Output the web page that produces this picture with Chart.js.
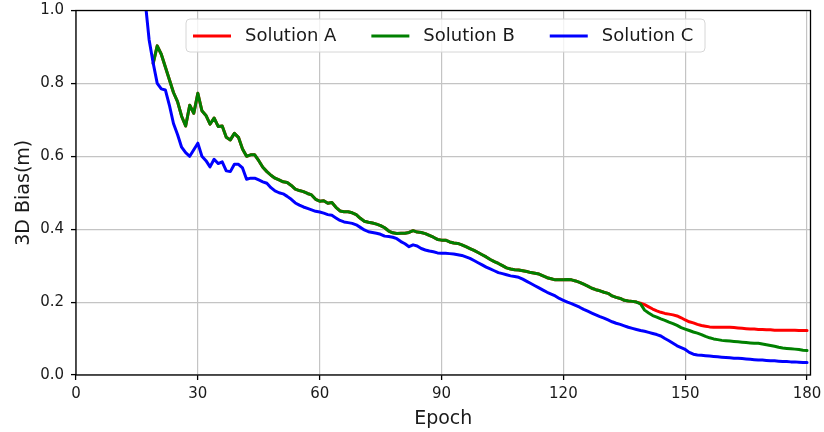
<!DOCTYPE html>
<html>
<head>
<meta charset="utf-8">
<script src="https://cdn.jsdelivr.net/npm/chart.js@4/dist/chart.umd.min.js"></script>
<style>
  html, body { margin: 0; padding: 0; background: #fff; }
  canvas { display: block; }
</style>
</head>
<body>
<canvas id="biasChart" width="824" height="432"></canvas>
<script>
// epochs 17..180, one value per epoch (null = no value)
let epochs = [];
for (let e = 17; e <= 180; e++) epochs.push(e);

let solutionC = [
  1.03, 0.92, 0.856, 0.8, 0.785, 0.782, 0.74, 0.69, 0.66, 0.625,
  0.61, 0.6, 0.618, 0.636, 0.6, 0.588, 0.571, 0.592, 0.58, 0.585,
  0.56, 0.558, 0.578, 0.578, 0.568, 0.537, 0.54, 0.54, 0.535, 0.53,
  0.526, 0.514, 0.505, 0.5, 0.497, 0.49, 0.482, 0.472, 0.466, 0.461,
  0.457, 0.453, 0.449, 0.447, 0.444, 0.44, 0.438, 0.431, 0.424, 0.42,
  0.418, 0.416, 0.412, 0.405, 0.398, 0.393, 0.391, 0.389, 0.386, 0.381,
  0.38, 0.378, 0.374, 0.366, 0.36, 0.352, 0.357, 0.354, 0.347, 0.343,
  0.34, 0.338, 0.335, 0.334, 0.334, 0.333, 0.332, 0.33, 0.328, 0.324,
  0.32, 0.314, 0.308, 0.302, 0.296, 0.291, 0.286, 0.281, 0.278, 0.275,
  0.272, 0.27, 0.268, 0.263, 0.257, 0.251, 0.245, 0.239, 0.233, 0.227,
  0.222, 0.217, 0.21, 0.205, 0.2, 0.196, 0.191, 0.186, 0.18, 0.175,
  0.17, 0.165, 0.16, 0.156, 0.151, 0.146, 0.142, 0.139, 0.135, 0.131,
  0.128, 0.125, 0.122, 0.12, 0.117, 0.114, 0.111, 0.107, 0.1, 0.094,
  0.087, 0.08, 0.075, 0.07, 0.062, 0.057, 0.055, 0.054, 0.053, 0.052,
  0.051, 0.05, 0.049, 0.048, 0.047, 0.046, 0.046, 0.045, 0.044, 0.043,
  0.042, 0.041, 0.041, 0.04, 0.039, 0.039, 0.038, 0.037, 0.037, 0.036,
  0.036, 0.035, 0.034, 0.034
];

let solutionB = [
  null, null, 0.855, 0.903, 0.88, 0.845, 0.81, 0.775, 0.75, 0.71,
  0.683, 0.74, 0.718, 0.773, 0.725, 0.712, 0.688, 0.705, 0.682, 0.683,
  0.652, 0.645, 0.663, 0.652, 0.62, 0.6, 0.604, 0.604, 0.588, 0.57,
  0.558, 0.548, 0.54, 0.535, 0.53, 0.528, 0.52, 0.51, 0.506, 0.503,
  0.498, 0.494, 0.482, 0.477, 0.478, 0.471, 0.473, 0.46, 0.45, 0.448,
  0.448, 0.445, 0.44, 0.43, 0.422, 0.419, 0.417, 0.414, 0.41, 0.404,
  0.395, 0.39, 0.388, 0.389, 0.389, 0.391, 0.396, 0.392, 0.391, 0.388,
  0.383, 0.378, 0.372, 0.37, 0.37, 0.365, 0.362, 0.361, 0.357, 0.352,
  0.347, 0.342, 0.336, 0.33, 0.324, 0.317, 0.311, 0.306, 0.3, 0.294,
  0.291, 0.289, 0.288, 0.286, 0.284, 0.281, 0.279, 0.277, 0.272, 0.267,
  0.264, 0.261, 0.261, 0.261, 0.262, 0.261, 0.258, 0.254, 0.249, 0.244,
  0.238, 0.234, 0.231, 0.227, 0.224, 0.217, 0.213, 0.21, 0.205, 0.203,
  0.202, 0.2, 0.195, 0.178, 0.17, 0.163, 0.159, 0.154, 0.15, 0.145,
  0.141, 0.136, 0.13, 0.126, 0.122, 0.118, 0.115, 0.111, 0.106, 0.102,
  0.099, 0.097, 0.095, 0.094, 0.093, 0.092, 0.091, 0.09, 0.089, 0.088,
  0.087, 0.087, 0.085, 0.083, 0.081, 0.079, 0.076, 0.074, 0.073, 0.072,
  0.071, 0.07, 0.068, 0.067
];

// Solution A follows B until ~epoch 138, drawn underneath it
let solutionAEpochs = [
  19, 20, 21, 22, 23, 24, 25, 26, 27, 28, 29, 30, 31, 32, 33, 34, 35, 36, 37, 38,
  39, 40, 41, 42, 43, 44, 45, 46, 47, 48, 49, 50, 51, 52, 53, 54, 55, 56, 57, 58,
  59, 60, 61, 62, 63, 64, 65, 66, 67, 68, 69, 70, 71, 72, 73, 74, 75, 76, 77, 78,
  79, 80, 81, 82, 83, 84, 85, 86, 87, 88, 89, 90, 91, 92, 93, 94, 95, 96, 97, 98,
  99, 100, 101, 102, 103, 104, 105, 106, 107, 108, 109, 110, 111, 112, 113, 114, 115, 116, 117, 118,
  119, 120, 121, 122, 123, 124, 125, 126, 127, 128, 129, 130, 131, 132, 133, 134, 135, 136, 137, 138,
  139, 140, 141, 142, 143, 144, 145, 146, 147, 148, 149, 150, 151, 152, 153, 154, 155, 156, 157, 158,
  159, 160, 161, 162, 163, 164, 165, 166, 167, 168, 169, 170, 171, 172, 173, 174, 175, 176, 177, 178,
  179, 180
];
let solutionA = [
  0.855, 0.903, 0.88, 0.845, 0.81, 0.775, 0.75, 0.71, 0.683, 0.74,
  0.718, 0.773, 0.725, 0.712, 0.688, 0.705, 0.682, 0.683, 0.652, 0.645,
  0.663, 0.652, 0.62, 0.6, 0.604, 0.604, 0.588, 0.57, 0.558, 0.548,
  0.54, 0.535, 0.53, 0.528, 0.52, 0.51, 0.506, 0.503, 0.498, 0.494,
  0.482, 0.477, 0.478, 0.471, 0.473, 0.46, 0.45, 0.448, 0.448, 0.445,
  0.44, 0.43, 0.422, 0.419, 0.417, 0.414, 0.41, 0.404, 0.395, 0.39,
  0.388, 0.389, 0.389, 0.391, 0.396, 0.392, 0.391, 0.388, 0.383, 0.378,
  0.372, 0.37, 0.37, 0.365, 0.362, 0.361, 0.357, 0.352, 0.347, 0.342,
  0.336, 0.33, 0.324, 0.317, 0.311, 0.306, 0.3, 0.294, 0.291, 0.289,
  0.288, 0.286, 0.284, 0.281, 0.279, 0.277, 0.272, 0.267, 0.264, 0.261,
  0.261, 0.261, 0.262, 0.261, 0.258, 0.254, 0.249, 0.244, 0.238, 0.234,
  0.231, 0.227, 0.224, 0.217, 0.213, 0.21, 0.205, 0.203, 0.202, 0.2,
  0.197, 0.193, 0.187, 0.181, 0.176, 0.172, 0.169, 0.167, 0.165, 0.162,
  0.157, 0.151, 0.146, 0.143, 0.139, 0.136, 0.134, 0.132, 0.131, 0.131,
  0.131, 0.131, 0.131, 0.13, 0.129, 0.128, 0.127, 0.126, 0.126, 0.125,
  0.125, 0.124, 0.124, 0.123, 0.123, 0.123, 0.123, 0.123, 0.123, 0.122,
  0.122, 0.122
];

let xTicks = [0, 30, 60, 90, 120, 150, 180];
let yTicks = [0.0, 0.2, 0.4, 0.6, 0.8, 1.0];

function toPoints(xs, ys) {
  let pts = [];
  for (let i = 0; i < xs.length; i++) {
    if (ys[i] !== null) pts.push({ x: xs[i], y: ys[i] });
  }
  return pts;
}

// frame around the plot + legend box inside the axes
let framePlugin = {
  id: 'frameAndLegend',
  afterDraw(chart) {
    let ctx = chart.ctx;
    let a = chart.chartArea;
    ctx.save();
    ctx.strokeStyle = '#000';
    ctx.lineWidth = 1.3;
    ctx.strokeRect(a.left, a.top, a.right - a.left, a.bottom - a.top);

    // legend
    let bx = 186, by = 19, bw = 519, bh = 33, r = 4;
    ctx.beginPath();
    ctx.moveTo(bx + r, by);
    ctx.arcTo(bx + bw, by, bx + bw, by + bh, r);
    ctx.arcTo(bx + bw, by + bh, bx, by + bh, r);
    ctx.arcTo(bx, by + bh, bx, by, r);
    ctx.arcTo(bx, by, bx + bw, by, r);
    ctx.closePath();
    ctx.fillStyle = 'rgba(255,255,255,0.8)';
    ctx.fill();
    ctx.strokeStyle = '#d6d6d6';
    ctx.lineWidth = 1;
    ctx.stroke();

    ctx.font = '18px "DejaVu Sans"';
    ctx.textBaseline = 'middle';
    ctx.textAlign = 'left';
    let cy = by + bh / 2 + 0.5;
    let x = 193;
    chart.data.datasets.forEach(function (ds) {
      ctx.strokeStyle = ds.borderColor;
      ctx.lineWidth = 3;
      ctx.beginPath();
      ctx.moveTo(x, cy);
      ctx.lineTo(x + 38, cy);
      ctx.stroke();
      ctx.fillStyle = '#1a1a1a';
      ctx.fillText(ds.label, x + 52, cy);
      x = x + 52 + ctx.measureText(ds.label).width + 35;
    });
    ctx.restore();
  }
};

let canvas = document.getElementById('biasChart');
let biasChart = new Chart(canvas, {
  type: 'line',
  data: {
    datasets: [{
      label: 'Solution A',
      data: toPoints(solutionAEpochs, solutionA),
      borderColor: '#ff0000',
      borderWidth: 3,
      order: 3
    },
    {
      label: 'Solution B',
      data: toPoints(epochs, solutionB),
      borderColor: '#008000',
      borderWidth: 3,
      order: 2
    },
    {
      label: 'Solution C',
      data: toPoints(epochs, solutionC),
      borderColor: '#0000ff',
      borderWidth: 3,
      order: 1
    }
    ]
  },
  options: {
    responsive: false,
    animation: false,
    devicePixelRatio: 1,
    layout: { padding: { top: 10.5, right: 13.5, left: 0, bottom: 0 } },
    elements: {
      point: { radius: 0 },
      line: { tension: 0, borderJoinStyle: 'round', borderCapStyle: 'round' }
    },
    datasets: { line: { clip: 0 } },
    plugins: {
      legend: { display: false },
      tooltip: { enabled: false }
    },
    scales: {
      x: {
        type: 'linear',
        min: 0,
        max: 180.85,
        afterBuildTicks: function (scale) {
          scale.ticks = xTicks.map(function (v) { return { value: v }; });
        },
        afterFit: function (scale) {
          scale.height = 57;
          scale.paddingLeft = 0;
          scale.paddingRight = 0;
        },
        ticks: {
          font: { family: 'DejaVu Sans', size: 15 },
          color: '#1a1a1a',
          padding: 5,
          maxRotation: 0,
          callback: function (v) { return v; }
        },
        grid: {
          color: '#c4c4c4',
          lineWidth: 1.2,
          tickColor: '#000',
          tickLength: 5,
          tickWidth: 1.3
        },
        border: { display: false },
        title: {
          display: true,
          text: 'Epoch',
          font: { family: 'DejaVu Sans', size: 19 },
          color: '#1a1a1a',
          padding: { top: 0, bottom: 2 }
        }
      },
      y: {
        min: 0,
        max: 1,
        afterBuildTicks: function (scale) {
          scale.ticks = yTicks.map(function (v) { return { value: v }; });
        },
        afterFit: function (scale) {
          scale.width = 76;
          scale.paddingTop = 0;
          scale.paddingBottom = 0;
        },
        ticks: {
          font: { family: 'DejaVu Sans', size: 15 },
          color: '#1a1a1a',
          padding: 7,
          callback: function (v) { return v.toFixed(1); }
        },
        grid: {
          color: '#c4c4c4',
          lineWidth: 1.2,
          tickColor: '#000',
          tickLength: 5,
          tickWidth: 1.3
        },
        border: { display: false },
        title: {
          display: true,
          text: '3D Bias(m)',
          font: { family: 'DejaVu Sans', size: 19 },
          color: '#1a1a1a',
          padding: { top: 13, bottom: 0 }
        }
      }
    }
  },
  plugins: [framePlugin]
});
</script>
</body>
</html>
